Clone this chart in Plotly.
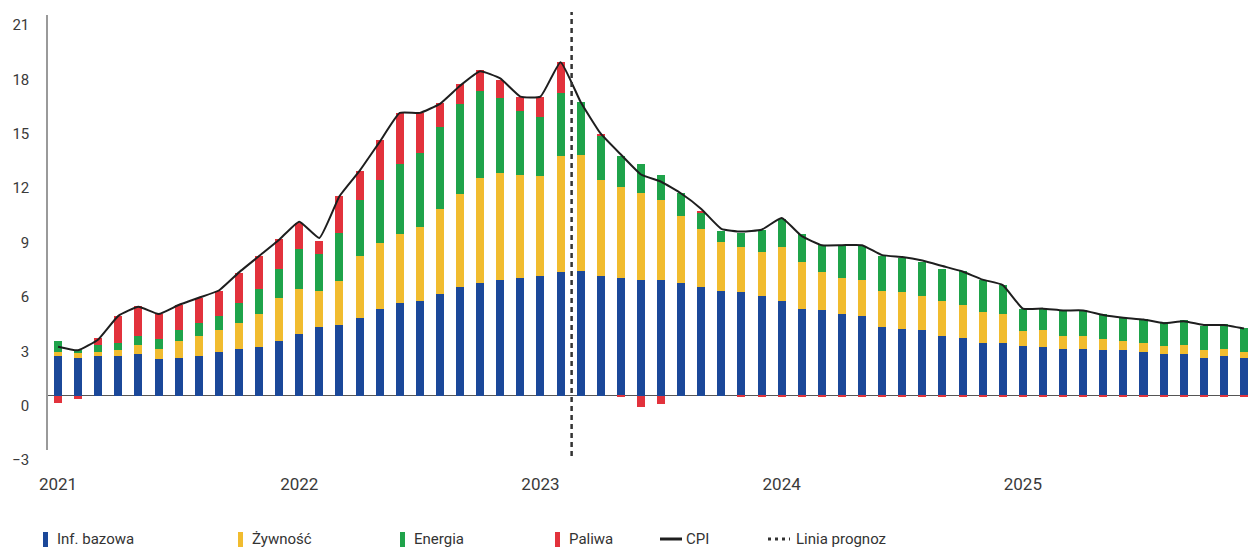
import plotly.graph_objects as go

# monthly categories Jan 2021 - Dec 2025
months = [f"{y}-{m:02d}" for y in range(2021, 2026) for m in range(1, 13)]
year_ticks = ["2021-01", "2022-01", "2023-01", "2024-01", "2025-01"]
year_labels = ["2021", "2022", "2023", "2024", "2025"]

# contributions to CPI (pp)
base = [2.2, 2.1, 2.2, 2.2, 2.3, 2.0, 2.1, 2.2, 2.4, 2.6, 2.7, 3.0,
        3.4, 3.8, 3.9, 4.3, 4.8, 5.1, 5.2, 5.6, 6.0, 6.2, 6.4, 6.5,
        6.6, 6.8, 6.9, 6.6, 6.5, 6.4, 6.4, 6.2, 6.0, 5.8, 5.7, 5.5,
        5.2, 4.8, 4.7, 4.5, 4.4, 3.8, 3.7, 3.6, 3.3, 3.2, 2.9, 2.9,
        2.75, 2.7, 2.6, 2.6, 2.5, 2.5, 2.4, 2.3, 2.3, 2.1, 2.2, 2.1]
food = [0.2, 0.3, 0.2, 0.3, 0.5, 0.6, 0.9, 1.1, 1.2, 1.4, 1.8, 2.4,
        2.5, 2.0, 2.4, 3.4, 3.6, 3.8, 4.1, 4.7, 5.1, 5.8, 5.9, 5.7,
        5.5, 6.4, 6.4, 5.3, 5.0, 4.8, 4.4, 3.7, 3.2, 2.7, 2.5, 2.4,
        3.0, 2.6, 2.1, 2.0, 2.0, 2.0, 2.0, 1.9, 1.9, 1.8, 1.7, 1.6,
        0.8, 0.9, 0.7, 0.7, 0.6, 0.5, 0.5, 0.45, 0.5, 0.4, 0.35, 0.3]
energy = [0.6, 0.1, 0.4, 0.4, 0.5, 0.5, 0.6, 0.7, 0.8, 1.1, 1.4, 1.6,
          2.2, 2.0, 2.7, 3.1, 3.5, 3.9, 4.1, 4.5, 5.0, 4.8, 4.1, 3.5,
          3.3, 3.5, 2.9, 2.4, 1.7, 1.6, 1.4, 1.3, 0.9, 0.6, 0.8, 1.25,
          1.55, 1.5, 1.5, 1.75, 1.85, 1.9, 1.9, 1.9, 1.8, 1.9, 1.8, 1.6,
          1.25, 1.25, 1.4, 1.4, 1.4, 1.3, 1.35, 1.3, 1.4, 1.35, 1.4, 1.35]
fuel = [-0.4, -0.2, 0.4, 1.5, 1.65, 1.4, 1.4, 1.4, 1.4, 1.65, 1.8, 1.65,
        1.45, 0.75, 2.0, 1.6, 2.2, 2.8, 2.2, 1.35, 1.1, 1.15, 1.0, 0.75,
        1.05, 1.7, 0.0, 0.15, -0.1, -0.6, -0.45, 0.0, 0.1, 0.0, -0.05, -0.05,
        -0.05, -0.05, -0.05, -0.05, -0.05, -0.05, -0.05, -0.05, -0.05, -0.05, -0.05, -0.05,
        -0.05, -0.05, -0.05, -0.05, -0.05, -0.05, -0.05, -0.05, -0.05, -0.05, -0.1, -0.1]
cpi = [2.7, 2.5, 3.1, 4.4, 4.9, 4.5, 5.0, 5.4, 5.8, 6.8, 7.7, 8.6,
       9.6, 8.7, 11.0, 12.4, 14.0, 15.6, 15.6, 16.1, 17.1, 17.9, 17.5, 16.5,
       16.5, 18.4, 16.2, 14.45, 13.3, 12.2, 11.8, 11.15, 10.3, 9.2, 9.05, 9.15,
       9.8, 8.8, 8.3, 8.3, 8.3, 7.75, 7.65, 7.45, 7.15, 6.85, 6.4, 6.1,
       4.8, 4.8, 4.7, 4.7, 4.45, 4.3, 4.2, 4.0, 4.1, 3.9, 3.9, 3.7]

series_names = ["Inf. bazowa", "Żywność", "Energia", "Paliwa"]
series_colors = ["#1b4899", "#f1bc2f", "#1fa34a", "#e2323c"]
forecast_start = 25.55  # between Feb and Mar 2023

FONT = "Roboto"
W, H = 1248, 549
ML, MR, MT, MB = 48, 0, 15, 99
PW, PH = W - ML - MR, H - MT - MB


def px_x(px):
    return (px - ML) / PW


def px_y(py):
    return (H - MB - py) / PH


fig = go.Figure()
for name, vals, color in zip(series_names, [base, food, energy, fuel], series_colors):
    fig.add_bar(x=months, y=vals, name=name, marker=dict(color=color, line_width=0),
                width=0.4, showlegend=False)

fig.add_scatter(x=months, y=cpi, name="CPI", mode="lines", showlegend=False,
                line=dict(color="#1e1e1e", width=2, shape="spline", smoothing=0.4))

# forecast line
fig.add_shape(type="line", xref="x", yref="paper", x0=forecast_start, x1=forecast_start,
              y0=px_y(456), y1=px_y(12), line=dict(color="#333333", width=2.5, dash="5px,4px"))

# hand-placed legend
legend_px = [45, 240, 402, 557, 660, 768]
LEG_Y = 539
for i, (name, xp) in enumerate(zip(series_names + ["CPI", "Linia prognoz"], legend_px)):
    if i < 4:
        fig.add_shape(type="rect", xref="paper", yref="paper",
                      x0=px_x(xp - 2), x1=px_x(xp + 3), y0=px_y(LEG_Y + 8), y1=px_y(LEG_Y - 7),
                      fillcolor=series_colors[i], line_width=0)
        tx = xp + 10
    elif name == "CPI":
        fig.add_shape(type="line", xref="paper", yref="paper",
                      x0=px_x(xp), x1=px_x(xp + 22), y0=px_y(LEG_Y), y1=px_y(LEG_Y),
                      line=dict(color="#1e1e1e", width=3))
        tx = xp + 24
    else:
        fig.add_shape(type="line", xref="paper", yref="paper",
                      x0=px_x(xp), x1=px_x(xp + 22), y0=px_y(LEG_Y), y1=px_y(LEG_Y),
                      line=dict(color="#333333", width=3, dash="3px,4px"))
        tx = xp + 26
    fig.add_annotation(text=name, xref="paper", yref="paper", x=px_x(tx), y=px_y(LEG_Y),
                       xanchor="left", yanchor="middle", showarrow=False,
                       font=dict(family=FONT, size=15, color="#333333"))

fig.update_layout(
    width=W, height=H,
    margin=dict(l=ML, r=MR, t=MT, b=MB),
    barmode="relative",
    bargap=0,
    plot_bgcolor="white",
    paper_bgcolor="white",
    font=dict(family=FONT, color="#3a3a3a"),
    showlegend=False,
)
fig.update_xaxes(type="category", range=[-0.5, 59.2], tickvals=year_ticks, ticktext=year_labels,
                 showgrid=False, showline=False, zeroline=False, ticks="",
                 tickfont=dict(size=17), ticklabelstandoff=22)
fig.update_yaxes(range=[-3, 21], tickvals=list(range(-3, 22, 3)), showgrid=False,
                 showline=True, linecolor="#9a9a9a", linewidth=1.5,
                 zeroline=True, zerolinecolor="#555555", zerolinewidth=1,
                 ticks="", tickfont=dict(size=15), ticklabelstandoff=14, ticklabelshift=10)

fig.write_html("out.html", config={"displayModeBar": False},
               post_script="document.body.style.margin='0';document.body.style.overflow='hidden';")
